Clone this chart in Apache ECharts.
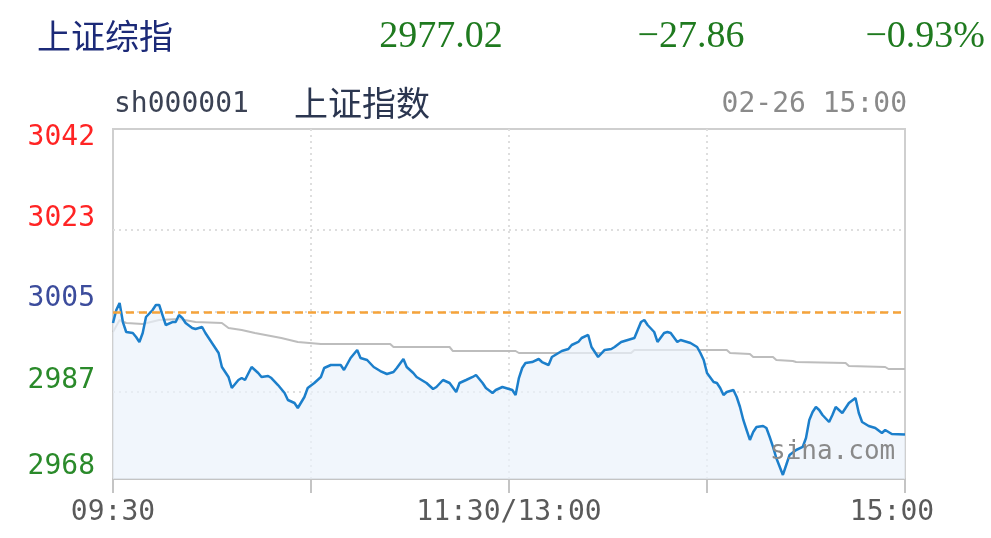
<!DOCTYPE html>
<html>
<head>
<meta charset="utf-8">
<script src="https://cdn.jsdelivr.net/npm/echarts@6/dist/echarts.min.js"></script>
<style>
  html, body { margin: 0; padding: 0; background: #fff; }
  #chart { width: 991px; height: 538px; }
</style>
</head>
<body>
<div id="chart"></div>
<script>
// 上证指数 intraday, 02-26

const quoteName = '上证综指';
const lastPrice = '2977.02';
const change = '−27.86';
const changePct = '−0.93%';
const code = 'sh000001';
const title = '上证指数';
const stamp = '02-26 15:00';
const preClose = 3003.3;

// minutes since 09:30 (0..240, lunch break removed)
const priceTimes = [0, 1, 2, 3, 4, 6, 7, 8, 9, 10, 12, 13, 14, 15, 16, 18, 19, 20, 21, 22,
  24, 25, 27, 28, 30, 32, 33, 35, 36, 38, 39, 40, 42, 44, 45, 47, 48, 50, 52, 53,
  55, 56, 58, 59, 61, 63, 64, 66, 69, 70, 72, 74, 75, 77, 79, 81, 83, 85, 86, 88,
  89, 91, 92, 95, 97, 98, 100, 102, 104, 105, 107, 109, 110, 112, 113, 115, 116, 118, 119, 121,
  122, 123, 124, 125, 127, 129, 130, 132, 133, 135, 136, 138, 139, 141, 142, 144, 145, 146, 147, 149,
  151, 152, 154, 156, 158, 159, 160, 161, 162, 164, 165, 167, 168, 169, 171, 172, 174, 175, 177, 178,
  179, 180, 182, 183, 184, 185, 186, 188, 189, 190, 191, 192, 193, 194, 195, 197, 198, 199, 200, 201,
  203, 204, 205, 207, 209, 210, 211, 212, 213, 214, 215, 217, 218, 219, 221, 222, 223, 225, 226, 227,
  229, 231, 233, 234, 236, 240];
const priceValues = [3000.98, 3003.73, 3005.21, 3001.19, 2999.08, 2998.87, 2998.02, 2996.97, 2998.87, 3002.25,
  3003.73, 3004.79, 3004.79, 3002.67, 3000.56, 3001.19, 3001.19, 3002.67, 3002.04, 3000.98,
  2999.93, 2999.71, 3000.14, 2998.87, 2996.75, 2994.64, 2991.68, 2989.57, 2987.24, 2988.93,
  2989.35, 2988.93, 2991.68, 2990.41, 2989.57, 2989.78, 2989.35, 2987.87, 2986.18, 2984.70,
  2984.07, 2983.01, 2985.34, 2987.24, 2988.30, 2989.57, 2991.47, 2992.10, 2992.10, 2991.05,
  2993.58, 2995.28, 2993.58, 2993.16, 2991.68, 2990.83, 2990.20, 2990.62, 2991.47, 2993.37,
  2991.68, 2990.41, 2989.57, 2988.30, 2987.03, 2987.45, 2988.93, 2988.30, 2986.39, 2988.30,
  2988.93, 2989.57, 2989.99, 2988.30, 2987.24, 2986.18, 2986.82, 2987.45, 2987.24, 2986.82,
  2985.76, 2989.35, 2991.47, 2992.52, 2992.73, 2993.37, 2992.73, 2992.10, 2993.79, 2994.64,
  2995.06, 2995.49, 2996.33, 2996.97, 2997.81, 2998.45, 2995.91, 2994.85, 2993.79, 2995.28,
  2995.49, 2995.91, 2996.97, 2997.39, 2997.81, 2999.50, 3001.19, 3001.62, 3000.56, 2999.08,
  2996.97, 2998.87, 2999.08, 2998.87, 2996.97, 2997.39, 2996.97, 2996.75, 2995.91, 2994.64,
  2993.16, 2990.41, 2988.51, 2988.30, 2987.24, 2985.76, 2986.39, 2986.82, 2985.34, 2983.22,
  2980.48, 2978.36, 2976.25, 2977.94, 2978.99, 2979.21, 2978.78, 2976.88, 2974.77, 2972.44,
  2968.85, 2970.96, 2973.07, 2974.13, 2974.77, 2976.67, 2980.48, 2982.17, 2983.22, 2982.59,
  2981.53, 2980.05, 2981.53, 2983.22, 2981.95, 2983.01, 2984.07, 2985.13, 2981.95, 2980.05,
  2979.21, 2978.78, 2977.73, 2978.36, 2977.51, 2977.40];

// average price (grey step line)
const avgTimes = [0, 2, 4, 9, 14, 20, 25, 33, 35, 39, 43, 51, 56, 63, 84, 85, 102, 103, 122, 123,
  157, 158, 186, 187, 193, 194, 200, 201, 206, 207, 222, 223, 234, 235, 240];
const avgValues = [2999.08, 3001.62, 3000.98, 3000.77, 3001.62, 3001.83, 3001.19, 3000.98, 2999.93, 2999.50,
  2998.87, 2997.81, 2996.97, 2996.54, 2996.54, 2995.91, 2995.91, 2995.06, 2995.06, 2994.64,
  2994.64, 2995.28, 2995.28, 2994.64, 2994.43, 2993.79, 2993.79, 2993.16, 2992.94, 2992.73,
  2992.52, 2991.89, 2991.68, 2991.26, 2991.26];

const yMin = 2968;
const yMax = 3042;
const yLabelValues = [2968, 2987, 3005, 3023, 3042];
const yGridValues = [2986.4, 3003.3, 3020.65];
const xLabelValues = [0, 120, 240];
const xLabelText = { 0: '09:30', 120: '11:30/13:00', 240: '15:00' };

const MONO = '"DejaVu Sans Mono", monospace';
const CJK = '"Noto Sans CJK SC", sans-serif';
const SERIF = '"Liberation Serif", serif';

// label colour + vertical nudge (Sina draws the edge labels inside the box)
function yLabelStyle(v) {
  if (v >= 3042) return 'top';
  if (v >= 3023) return 'up';
  if (v >= 3005) return 'mid';
  if (v >= 2987) return 'dn1';
  return 'dn2';
}

function pairs(xs, ys) {
  return xs.map((x, i) => [x, ys[i]]);
}

const chart = echarts.init(document.getElementById('chart'), null, { renderer: 'canvas' });

chart.setOption({
  backgroundColor: '#ffffff',
  animation: false,
  grid: {
    left: 113, right: 86, top: 129, bottom: 59,
    containLabel: false,
    outerBoundsMode: 'none',
    show: true,
    borderColor: '#cfcfcf',
    borderWidth: 2,
    backgroundColor: 'transparent',
  },
  xAxis: {
    type: 'value',
    min: 0, max: 240, interval: 60,
    axisLine: { show: true, lineStyle: { color: '#c4c4c4', width: 2 } },
    axisTick: { show: true, length: 14, lineStyle: { color: '#c4c4c4', width: 2 } },
    splitLine: { show: true, showMinLine: false, showMaxLine: false, lineStyle: { color: '#dedede', type: [2, 4], width: 2 } },
    axisLabel: {
      customValues: xLabelValues,
      formatter: v => (v === 240 ? `{end|${xLabelText[v]}}` : xLabelText[v] || ''),
      margin: 20,
      color: '#5a5a5a',
      fontFamily: MONO,
      fontSize: 28,
      rich: {
        end: { color: '#5a5a5a', fontFamily: MONO, fontSize: 28, padding: [0, 26, 0, 0] },
      },
    },
  },
  yAxis: {
    type: 'value',
    min: yMin, max: yMax,
    axisLine: { show: false },
    axisTick: { show: false, customValues: yGridValues },
    splitLine: { show: true, lineStyle: { color: '#dedede', type: [2, 4], width: 2 } },
    axisLabel: {
      customValues: yLabelValues,
      margin: 18,
      fontFamily: MONO,
      fontSize: 28,
      formatter: v => `{${yLabelStyle(v)}|${v}}`,
      rich: {
        top: { color: '#ff2424', fontFamily: MONO, fontSize: 28, padding: [18, 0, 0, 0] },
        up: { color: '#ff2424', fontFamily: MONO, fontSize: 28 },
        mid: { color: '#3c4c9c', fontFamily: MONO, fontSize: 28, padding: [0, 0, 10, 0] },
        dn1: { color: '#2a8a2a', fontFamily: MONO, fontSize: 28, padding: [0, 0, 16, 0] },
        dn2: { color: '#2a8a2a', fontFamily: MONO, fontSize: 28, padding: [0, 0, 24, 0] },
      },
    },
  },
  series: [
    {
      name: '均价',
      type: 'line',
      data: pairs(avgTimes, avgValues),
      showSymbol: false,
      z: 3,
      lineStyle: { color: '#bdbdbd', width: 2 },
    },
    {
      name: '价格',
      type: 'line',
      data: pairs(priceTimes, priceValues),
      showSymbol: false,
      z: 4,
      lineStyle: { color: '#1c7fcb', width: 2.5 },
      areaStyle: { origin: 'start', color: '#ebf2fb' },
      markLine: {
        silent: true,
        symbol: 'none',
        label: { show: false },
        lineStyle: { color: '#f5a33a', type: [8, 5], width: 2.5 },
        data: [{ yAxis: preClose }],
      },
    },
  ],
  graphic: [
    { type: 'text', x: 37, y: 36, style: { text: quoteName, fill: '#1c2a78', font: `34px ${CJK}`, align: 'left', verticalAlign: 'middle' } },
    { type: 'text', x: 441, y: 37, style: { text: lastPrice, fill: '#1f7a1f', font: `38px ${SERIF}`, align: 'center', verticalAlign: 'middle' } },
    { type: 'text', x: 691, y: 37, style: { text: change, fill: '#1f7a1f', font: `38px ${SERIF}`, align: 'center', verticalAlign: 'middle' } },
    { type: 'text', x: 985, y: 37, style: { text: changePct, fill: '#1f7a1f', font: `38px ${SERIF}`, align: 'right', verticalAlign: 'middle' } },
    { type: 'text', x: 114, y: 105, style: { text: code, fill: '#3b4254', font: `28px ${MONO}`, align: 'left', verticalAlign: 'middle' } },
    { type: 'text', x: 294, y: 103, style: { text: title, fill: '#2b3650', font: `34px ${CJK}`, align: 'left', verticalAlign: 'middle' } },
    { type: 'text', x: 907, y: 105, style: { text: stamp, fill: '#8a8a8a', font: `28px ${MONO}`, align: 'right', verticalAlign: 'middle' } },
    { type: 'text', x: 770, y: 452, z: 100, style: { text: 'sina.com', fill: '#8a8a8a', font: `26px ${MONO}`, align: 'left', verticalAlign: 'middle' } },
  ],
});

window.addEventListener('resize', () => chart.resize());
</script>
</body>
</html>
